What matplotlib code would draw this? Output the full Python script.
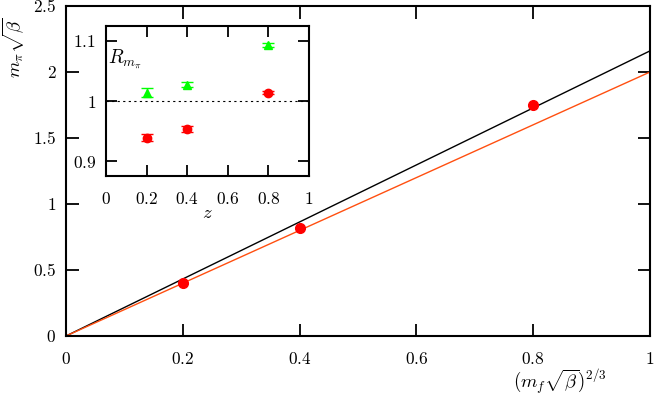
import matplotlib
matplotlib.use("Agg")
import matplotlib.pyplot as plt
from matplotlib.ticker import FuncFormatter, FixedLocator

plt.rcParams['mathtext.fontset'] = 'cm'
plt.rcParams['font.family'] = ['DejaVu Serif']

# main data
x_pts = [0.2, 0.4, 0.8]
y_pts = [0.40, 0.82, 1.75]
y_err = [0.01, 0.01, 0.01]
line_x = [0.0, 1.0]
black_line_y = [0.0, 2.16]
orange_line_y = [0.0, 2.0]

# inset data
z_vals = [0.2, 0.4, 0.8]
green_R = [1.014, 1.027, 1.093]
green_err = [0.008, 0.004, 0.003]
red_R = [0.939, 0.954, 1.014]
red_err = [0.006, 0.005, 0.003]

main_xticks = [0, 0.2, 0.4, 0.6, 0.8, 1]
main_yticks = [0, 0.5, 1, 1.5, 2, 2.5]
inset_xticks = [0, 0.2, 0.4, 0.6, 0.8, 1]
inset_yticks = [0.9, 1, 1.1]

W, H = 654, 395
fig = plt.figure(figsize=(W / 100, H / 100), dpi=100)

fmt = FuncFormatter(lambda v, p: f"${v:g}$")

def style(ax, length, fs):
    for s in ax.spines.values():
        s.set_linewidth(1.5)
    ax.tick_params(direction='in', length=length, width=1.3, top=True, right=True,
                   labelsize=fs, pad=7)
    ax.tick_params(axis='x', pad=10.5)
    ax.xaxis.set_major_formatter(fmt)
    ax.yaxis.set_major_formatter(fmt)

# main axes: left 66, right 650, top 6, bottom 336
ax = fig.add_axes([66 / W, (H - 336) / H, 584 / W, 330 / H])
ax.plot(line_x, black_line_y, color='black', lw=1.0)
ax.plot(line_x, orange_line_y, color='#ff4f10', lw=1.0)
ax.errorbar(x_pts, y_pts, yerr=y_err, fmt='o', color='#ff0000', ms=7, capsize=3,
            elinewidth=1, zorder=5)
ax.set_xlim(0, 1)
ax.set_ylim(0, 2.5)
ax.xaxis.set_major_locator(FixedLocator(main_xticks))
ax.yaxis.set_major_locator(FixedLocator(main_yticks))
style(ax, 9, 12.5)
ax.text(560, H - 382, r"$(m_f\sqrt{\beta})^{2/3}$", fontsize=13.5, ha='center',
        va='center', transform=None)
fig.text(14 / W, 1 - 48 / H, r"$m_\pi\sqrt{\beta}$", fontsize=13.5, rotation=90,
         ha='center', va='center')

# inset: left 106, right 309, top 26, bottom 176
ai = fig.add_axes([106 / W, (H - 176) / H, 203 / W, 150 / H])
ai.plot([0, 1], [1, 1], color='black', lw=0.8, ls=(0, (2, 3)))
ai.errorbar(z_vals, green_R, yerr=green_err, fmt='^', color='#00ff00', ms=6, capsize=4,
            elinewidth=1, zorder=5)
ai.errorbar(z_vals, red_R, yerr=red_err, fmt='o', color='#ff0000', ms=6, capsize=4,
            elinewidth=1, zorder=5)
ai.set_xlim(0, 1)
ai.set_ylim(0.875, 1.125)
ai.xaxis.set_major_locator(FixedLocator(inset_xticks))
ai.yaxis.set_major_locator(FixedLocator(inset_yticks))
style(ai, 8, 12.5)
ai.text(0.095, 1.068, r"$R_{m_\pi}$", fontsize=14, ha='center', va='center')
ai.text(207, H - 213, r"$z$", fontsize=13.5, ha='center', va='center', transform=None)

fig.savefig("out.png", dpi=100)
